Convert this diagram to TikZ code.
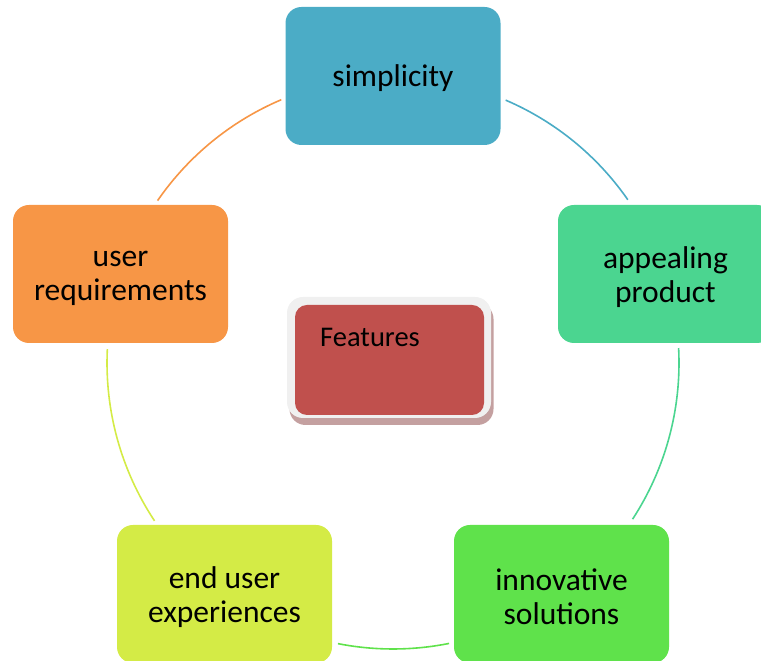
\documentclass[tikz,border=0pt]{standalone}
\usepackage{fontspec}
\setmainfont{Carlito}
\definecolor{cteal}{HTML}{4BACC6}
\definecolor{cmint}{HTML}{4BD590}
\definecolor{cgreen}{HTML}{5FE24B}
\definecolor{clime}{HTML}{D4EB46}
\definecolor{corange}{HTML}{F79646}
\definecolor{cred}{HTML}{C0504D}
\definecolor{cborder}{HTML}{F0F0F0}
\definecolor{cshadow}{HTML}{C4A0A0}
\begin{document}
\begin{tikzpicture}[x=1pt,y=1pt,
  box/.style={rectangle, rounded corners=16pt, minimum width=215pt, minimum height=138pt,
    inner sep=0pt, align=center, font=\fontsize{31.5}{34}\selectfont},
  boxtext/.style={align=center, inner sep=0pt, font=\fontsize{31.5}{34}\selectfont},
  plate/.style={rectangle, inner sep=0pt, outer sep=0pt},
  arcline/.style={line width=1.6pt}]
\useasboundingbox (0,0) rectangle (761,661);
\clip (0,0) rectangle (761,661);
\coordinate (c) at (393,298);
% arcs
\draw[arcline, corange] (c) ++(145.4:286) arc[start angle=145.4, end angle=113, radius=286];
\draw[arcline, cteal] (c) ++(66.8:286) arc[start angle=66.8, end angle=34.8, radius=286];
\draw[arcline, cmint] (c) ++(3:286) arc[start angle=3, end angle=-33.1, radius=286];
\draw[arcline, cgreen] (c) ++(-78.7:286) arc[start angle=-78.7, end angle=-101.1, radius=286];
\draw[arcline, clime] (c) ++(213.5:286) arc[start angle=213.5, end angle=177.2, radius=286];
% boxes
\node[box, fill=cteal] (simp) at (393,585) {};
\node[box, fill=cmint] (appe) at (665.5,387) {};
\node[box, fill=cgreen] (inno) at (561.5,67) {};
\node[box, fill=clime] (endu) at (224.5,67) {};
\node[box, fill=corange] (user) at (120.5,387) {};
\node[boxtext] (simpt) at ([yshift=-2.5pt]simp.center) {simplicity};
\node[boxtext] (appet) at ([yshift=-3pt]appe.center) {appealing\\product};
\node[boxtext] (innot) at ([yshift=-3pt]inno.center) {innovative\\solutions};
\node[boxtext] (endut) at ([yshift=-3pt]endu.center) {end user\\experiences};
\node[boxtext] (usert) at ([yshift=-4pt]user.center) {user\\requirements};
% central Features box
\node[plate, rounded corners=16pt, fill=cshadow, minimum width=204pt, minimum height=122pt] (fshadow) at (391.5,297) {};
\node[plate, rounded corners=16pt, fill=cborder, minimum width=204pt, minimum height=121pt] (fwhite) at (389,303.5) {};
\node[plate, rounded corners=12pt, fill=cred, minimum width=189pt, minimum height=110pt] (feat) at (389.5,301) {};
\node[anchor=base west, inner sep=0pt, font=\fontsize{28.5}{30}\selectfont] (ftext) at (320,314) {Features};
\end{tikzpicture}
\end{document}
